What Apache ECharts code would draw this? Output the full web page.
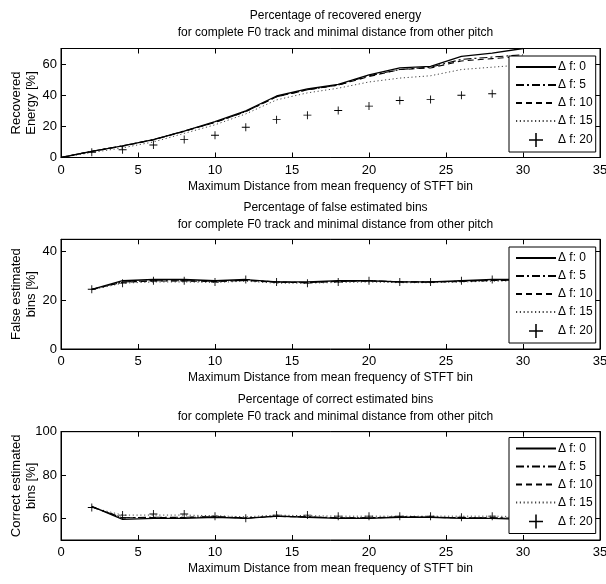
<!DOCTYPE html>
<html><head><meta charset="utf-8">
<script src="https://cdn.jsdelivr.net/npm/echarts@6/dist/echarts.min.js"></script>
<style>html,body{margin:0;padding:0;background:#fff}#c{width:606px;height:584px}</style>
</head><body><div id="c"></div>
<script>
var seriesNames = ['\u0394 f: 0', '\u0394 f: 5', '\u0394 f: 10', '\u0394 f: 15', '\u0394 f: 20'];
var xEnergy = [0, 2, 4, 6, 8, 10, 12, 14, 16, 18, 20, 22, 24, 26, 28, 30];
var energy0 = [0, 4, 7.5, 11.5, 17, 23, 30, 39.5, 44, 47, 53, 57.5, 58.5, 65, 67, 70];
var energy5 = [0, 4, 7.5, 11.5, 17, 22.5, 29.5, 39, 43.5, 46.5, 52.5, 56.5, 58, 63, 64.5, 66];
var energy10 = [0, 4, 7.3, 11.3, 16.8, 22.5, 29.5, 39, 43.5, 46.5, 52, 56.5, 57.5, 62, 63.5, 65];
var energy15 = [0, 3.2, 6.2, 10, 15.5, 21, 28, 37, 41.5, 44.5, 48.5, 51, 52.5, 56.5, 58, 59.5];
var xEnergyPlus = [2, 4, 6, 8, 10, 12, 14, 16, 18, 20, 22, 24, 26, 28, 30];
var energy20 = [3.4, 5, 8, 11.5, 14.3, 19.4, 24.3, 27.2, 30.2, 33, 36.6, 37.2, 40, 40.9, 43];

var xBins = [2, 4, 6, 8, 10, 12, 14, 16, 18, 20, 22, 24, 26, 28, 30];
var false0 = [24.5, 28, 28.5, 28.5, 28, 28.5, 27.5, 27.5, 28, 28, 27.5, 27.5, 28, 28.5, 28.5];
var false5 = [24.5, 27.5, 28, 28, 27.8, 28.2, 27.5, 27.3, 27.8, 28, 27.6, 27.5, 27.8, 28.2, 28.3];
var false10 = [24.4, 27.4, 27.9, 27.9, 27.7, 28.1, 27.4, 27.2, 27.7, 27.9, 27.5, 27.4, 27.7, 28.1, 28.2];
var false15 = [24.3, 27, 27.5, 27.5, 27.3, 27.8, 27, 27, 27.3, 27.5, 27.2, 27.2, 27.5, 27.8, 28];
var false20 = [24.5, 27, 28, 28, 27.5, 28.5, 27.5, 27, 27.5, 28, 27.5, 27.5, 28, 28.5, 28];

var corr0 = [65.5, 59.5, 60, 60, 60.5, 60, 61, 60.5, 60, 60, 60.5, 60.5, 60, 60, 59.5];
var corr5 = [65.3, 60.3, 60.5, 60.5, 60.8, 60.2, 61, 60.7, 60.3, 60.3, 60.7, 60.6, 60.3, 60.3, 60];
var corr10 = [65.3, 60.2, 60.4, 60.4, 60.7, 60.1, 60.9, 60.6, 60.2, 60.2, 60.6, 60.5, 60.2, 60.2, 59.9];
var corr15 = [65, 61.5, 61.5, 61.5, 61.2, 60.7, 61.5, 61.2, 61, 61, 61, 61, 61, 61, 60.8];
var corr20 = [65, 61.5, 62, 62, 61, 60, 61.5, 61.5, 61, 61, 61, 61, 60.5, 61, 60.5];

var xTicks = [0, 5, 10, 15, 20, 25, 30, 35];
var yTicks1 = [0, 20, 40, 60];
var yTicks2 = [0, 20, 40];
var yTicks3 = [60, 80, 100];

var titles1 = ['Percentage of recovered energy', 'Percentage of false estimated bins', 'Percentage of correct estimated bins'];
var titleLine2 = 'for complete F0 track and minimal distance from other pitch';
var xName = 'Maximum Distance from mean frequency of STFT bin';
var yNames = ['Recovered\nEnergy [%]', 'False estimated\nbins [%]', 'Correct estimated\nbins [%]'];

var FONT = '"Liberation Sans Narrow", "Liberation Sans", Arial, sans-serif';
var FONT2 = '"Liberation Sans", Arial, sans-serif';

function zip(xs, ys) { return ys.map(function (v, i) { return [xs[i], v]; }); }

var gridBase = { left: 61, right: 6, outerBoundsMode: 'none', containLabel: false, show: true, borderColor: '#000', borderWidth: 1, backgroundColor: 'transparent' };
var grids = [
  Object.assign({ top: 48.5, height: 109 }, gridBase),
  Object.assign({ top: 239.3, height: 109.7 }, gridBase),
  Object.assign({ top: 431.7, height: 108.3 }, gridBase)
];
var yRanges = [[0, 70], [0, 45], [50, 100]];
var yTickSets = [yTicks1, yTicks2, yTicks3];
var legendTops = [56, 247, 437.5];
var titleTops = [2.5, 194, 386.5];

var xAxes = [], yAxes = [], series = [], legends = [], titles = [];
var plus = 'path://M-0.55,-5 L0.55,-5 L0.55,-0.55 L5,-0.55 L5,0.55 L0.55,0.55 L0.55,5 L-0.55,5 L-0.55,0.55 L-5,0.55 L-5,-0.55 L-0.55,-0.55 Z';
var lineStyles = [
  { type: 'solid', color: '#000', width: 1.3 },
  { type: [8, 3, 2, 3], color: '#000', width: 1.1 },
  { type: [6, 4], color: '#000', width: 1.1 },
  { type: [1.2, 2.6], color: '#444', width: 1 }
];
var datasets = [
  [zip(xEnergy, energy0), zip(xEnergy, energy5), zip(xEnergy, energy10), zip(xEnergy, energy15), zip(xEnergyPlus, energy20)],
  [zip(xBins, false0), zip(xBins, false5), zip(xBins, false10), zip(xBins, false15), zip(xBins, false20)],
  [zip(xBins, corr0), zip(xBins, corr5), zip(xBins, corr10), zip(xBins, corr15), zip(xBins, corr20)]
];

for (var g = 0; g < 3; g++) {
  var axLine = { show: true, onZero: false, lineStyle: { color: '#000', width: 1 } };
  var tick = { show: true, inside: true, length: 5, lineStyle: { color: '#000' } };
  xAxes.push({
    gridIndex: g, type: 'value', min: 0, max: 35, interval: 5, position: 'bottom',
    name: xName, nameLocation: 'middle', nameGap: 23, nameMoveOverlap: false,
    nameTextStyle: { fontFamily: FONT, fontSize: 12, color: '#000' },
    axisLine: axLine, axisTick: tick, splitLine: { show: false },
    axisLabel: { fontFamily: FONT, fontSize: 13, color: '#000', margin: 6 }
  });
  xAxes.push({
    gridIndex: g, type: 'value', min: 0, max: 35, interval: 5, position: 'top',
    axisLine: axLine, axisTick: tick, splitLine: { show: false }, axisLabel: { show: false }
  });
  yAxes.push({
    gridIndex: g, type: 'value', min: yRanges[g][0], max: yRanges[g][1], position: 'left',
    name: yNames[g], nameLocation: 'middle', nameGap: 22, nameRotate: 90, nameMoveOverlap: false,
    nameTextStyle: { fontFamily: FONT2, fontSize: 13, color: '#000', lineHeight: 15 },
    axisLine: axLine, axisTick: { show: true, inside: true, length: 5, lineStyle: { color: '#000' }, customValues: yTickSets[g] },
    splitLine: { show: false },
    axisLabel: { fontFamily: FONT, fontSize: 13, color: '#000', margin: 4, customValues: yTickSets[g] }
  });
  yAxes.push({
    gridIndex: g, type: 'value', min: yRanges[g][0], max: yRanges[g][1], position: 'right',
    axisLine: axLine, axisTick: { show: true, inside: true, length: 5, lineStyle: { color: '#000' }, customValues: yTickSets[g] },
    splitLine: { show: false }, axisLabel: { show: false }
  });
  for (var s = 0; s < 5; s++) {
    if (s < 4) {
      series.push({
        type: 'line', name: seriesNames[s], xAxisIndex: g * 2, yAxisIndex: g * 2,
        data: datasets[g][s], symbol: 'none', lineStyle: lineStyles[s],
        itemStyle: { color: lineStyles[s].color }, silent: true, animation: false, z: 5 - s
      });
    } else {
      series.push({
        type: 'scatter', name: seriesNames[s], xAxisIndex: g * 2, yAxisIndex: g * 2,
        data: datasets[g][s], symbol: plus, symbolSize: 8,
        itemStyle: { color: '#000', opacity: 1 }, silent: true, animation: false, z: 6
      });
    }
  }
  legends.push({
    orient: 'vertical', left: 509, top: legendTops[g],
    backgroundColor: '#fff', borderColor: '#000', borderWidth: 1, borderRadius: 0,
    padding: [5, 3, 5, 6], itemGap: 6, itemWidth: 40, itemHeight: 14,
    textStyle: { fontFamily: FONT, fontSize: 12, color: '#000', padding: [0, 0, 0, -3] },
    data: seriesNames.map(function (n, i) {
      return i < 4 ? { name: n, itemStyle: { opacity: 0 } } : { name: n };
    }),
    selectedMode: false, z: 20
  });
  titles.push({
    text: titles1[g] + '\n' + titleLine2, left: 330.5, top: titleTops[g], textAlign: 'center',
    textStyle: { fontFamily: FONT, fontSize: 12, fontWeight: 'normal', color: '#000', lineHeight: 17 }
  });
}

var chart = echarts.init(document.getElementById('c'), null, { renderer: 'canvas' });
chart.setOption({
  animation: false,
  backgroundColor: '#fff',
  title: titles,
  grid: grids,
  xAxis: xAxes,
  yAxis: yAxes,
  legend: legends,
  series: series
});
</script>
</body></html>
